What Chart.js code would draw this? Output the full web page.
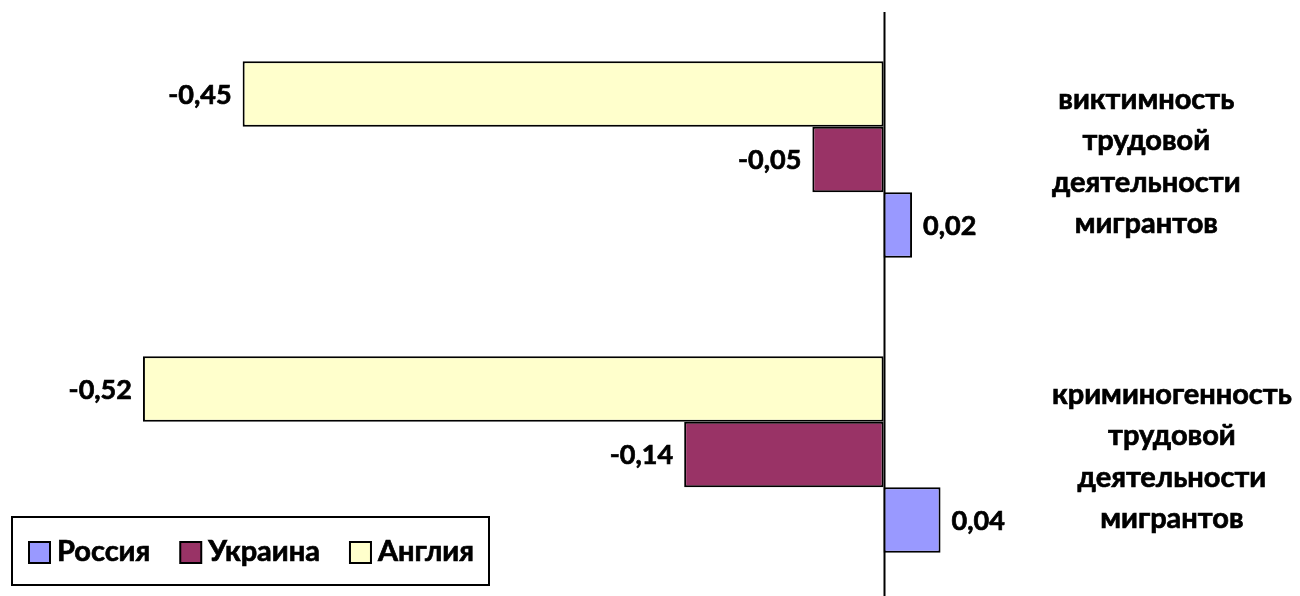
<!DOCTYPE html>
<html>
<head>
<meta charset="utf-8">
<script src="https://cdn.jsdelivr.net/npm/chart.js@4/dist/chart.umd.min.js"></script>
<style>
    html, body { margin: 0; padding: 0; background: #fff; overflow: hidden; }
    #wrap { position: relative; width: 1300px; height: 606px; }
</style>
</head>
<body>
<div id="wrap"><canvas id="chart"></canvas></div>
<script>
// categories, top to bottom
const categories = [
    ['виктимность', 'трудовой', 'деятельности', 'мигрантов'],
    ['криминогенность', 'трудовой', 'деятельности', 'мигрантов']
];
const seriesNames = ['Англия', 'Украина', 'Россия'];
const englandValues = [-0.45, -0.52];
const ukraineValues = [-0.05, -0.14];
const russiaValues = [0.02, 0.04];
const seriesColors = ['#FFFFCC', '#993366', '#9999FF'];

const FONT = 'Lato, "Open Sans", sans-serif';

// bold text with a hairline stroke so it reads as heavy as the original
function heavyText(ctx, txt, x, y) {
    ctx.fillText(txt, x, y);
    ctx.strokeText(txt, x, y);
}

// zero line, drawn under the bars
const zeroLine = {
    id: 'zeroLine',
    beforeDatasetsDraw(chart) {
        const ctx = chart.ctx;
        const x = Math.round(chart.scales.x.getPixelForValue(0)) + 0.5;
        ctx.save();
        ctx.strokeStyle = '#000';
        ctx.lineWidth = 2;
        ctx.beginPath();
        ctx.moveTo(x, chart.chartArea.top);
        ctx.lineTo(x, chart.height);
        ctx.stroke();
        ctx.restore();
    }
};

// value labels next to each bar end
const valueLabels = {
    id: 'valueLabels',
    afterDatasetsDraw(chart) {
        const ctx = chart.ctx;
        ctx.save();
        ctx.font = 'bold 27px ' + FONT;
        ctx.fillStyle = '#000';
        ctx.strokeStyle = '#000';
        ctx.lineWidth = 0.7;
        ctx.textBaseline = 'middle';
        chart.data.datasets.forEach((ds, di) => {
            chart.getDatasetMeta(di).data.forEach((bar, i) => {
                const v = ds.data[i];
                const txt = v.toFixed(2).replace('.', ',');
                if (v < 0) {
                    ctx.textAlign = 'right';
                    heavyText(ctx, txt, bar.x - 11, bar.y + 1);
                } else {
                    ctx.textAlign = 'left';
                    heavyText(ctx, txt, bar.x + 11, bar.y + 1);
                }
            });
        });
        ctx.restore();
    }
};

// wrapped category labels right of the plot, each block centred on its widest line
const categoryLabels = {
    id: 'categoryLabels',
    afterDraw(chart) {
        const ctx = chart.ctx;
        const y = chart.scales.y;
        const left = chart.chartArea.right + 26;
        const lineH = 41.5;
        ctx.save();
        ctx.font = 'bold 29px ' + FONT;
        ctx.fillStyle = '#000';
        ctx.strokeStyle = '#000';
        ctx.lineWidth = 0.7;
        ctx.textAlign = 'center';
        ctx.textBaseline = 'middle';
        categories.forEach((lines, i) => {
            const widest = Math.max(...lines.map(l => ctx.measureText(l).width));
            const cx = left + widest / 2;
            const cy = y.getPixelForValue(i) + 2;
            lines.forEach((l, k) => {
                heavyText(ctx, l, cx, cy + (k - (lines.length - 1) / 2) * lineH);
            });
        });
        ctx.restore();
    }
};

// boxed legend in the lower left corner
const boxLegend = {
    id: 'boxLegend',
    afterDraw(chart) {
        const ctx = chart.ctx;
        const bx = 12, by = 517, bw = 477, bh = 68;
        ctx.save();
        ctx.fillStyle = '#fff';
        ctx.fillRect(bx, by, bw, bh);
        ctx.strokeStyle = '#000';
        ctx.lineWidth = 2;
        ctx.strokeRect(bx, by, bw, bh);
        ctx.font = 'bold 29px ' + FONT;
        ctx.textBaseline = 'middle';
        ctx.textAlign = 'left';
        let x = 29;
        const cy = by + bh / 2 + 1;
        const order = chart.data.datasets.slice().reverse();
        order.forEach(ds => {
            ctx.fillStyle = ds.backgroundColor;
            ctx.fillRect(x, cy - 10, 21, 21);
            ctx.lineWidth = 2;
            ctx.strokeRect(x, cy - 10, 21, 21);
            ctx.fillStyle = '#000';
            ctx.lineWidth = 0.7;
            heavyText(ctx, ds.label, x + 28, cy);
            x += 28 + ctx.measureText(ds.label).width + 30;
        });
        ctx.restore();
    }
};

new Chart(document.getElementById('chart'), {
    type: 'bar',
    data: {
        labels: categories.map(c => c.join(' ')),
        datasets: [englandValues, ukraineValues, russiaValues].map((vals, i) => ({
            label: seriesNames[i],
            data: vals,
            backgroundColor: seriesColors[i],
            borderColor: '#000',
            borderWidth: 2,
            borderSkipped: false,
            categoryPercentage: 0.666,
            barPercentage: 1
        }))
    },
    options: {
        indexAxis: 'y',
        responsive: true,
        maintainAspectRatio: false,
        animation: false,
        layout: { padding: { left: 29, right: 274, top: 12, bottom: 4 } },
        plugins: {
            legend: { display: false },
            tooltip: { enabled: false }
        },
        scales: {
            x: { display: false, min: -0.6, max: 0.1 },
            y: { display: false }
        }
    },
    plugins: [zeroLine, valueLabels, categoryLabels, boxLegend]
});
</script>
</body>
</html>
